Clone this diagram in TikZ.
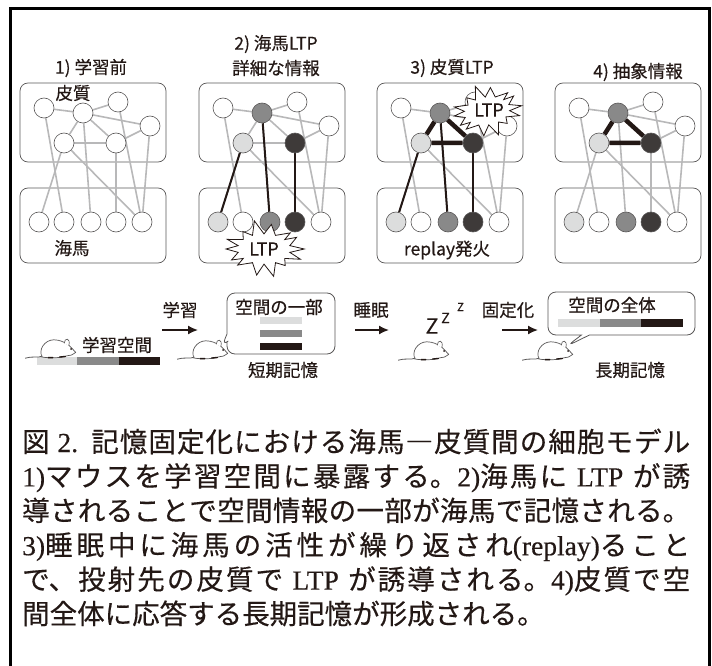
\documentclass[tikz,border=0pt]{standalone}
\usepackage{fontspec}
\setmainfont{Liberation Serif}
\newfontfamily\jp[FakeBold=0.4]{Noto Sans CJK JP}
\newfontfamily\latn[FakeBold=0.4]{Liberation Serif}
\usetikzlibrary{arrows.meta,shapes.callouts,backgrounds}
\definecolor{ink}{HTML}{231815}
\definecolor{lite}{HTML}{DCDDDD}
\definecolor{mid}{HTML}{898989}
\definecolor{dark}{HTML}{3E3A39}
\definecolor{fiber}{HTML}{B8B8B9}
\definecolor{rim}{HTML}{595757}
\XeTeXlinebreaklocale "ja"
\XeTeXlinebreakskip=0pt plus 2pt minus .5pt
\tikzset{
  mouse/.pic={
    \draw[rim, line width=.8pt] (-10,6) .. controls (-15,8) and (-20,6) .. (-26,8);
    \draw[rim, fill=white, line width=.7pt] (-11,7) .. controls (-15,1) and (-9,-8) .. (-1,-8)
      .. controls (4,-8) and (8,-6) .. (11,-4)
      .. controls (14,-2) and (16,1) .. (18,3)
      .. controls (16,5) and (13,6) .. (10,6)
      .. controls (5,8) and (-6,8) .. cycle;
    \draw[rim, fill=white, line width=.6pt] (8,-5) .. controls (8,-10) and (14,-10) .. (12,-3);
    \fill[ink] (14,0) circle (.9);
    \draw[ink, line width=1.4pt, line cap=round] (-6,7.5) -- (-2,7.5) (4,7) -- (9,6.5);
  },
  burst/.pic={
    \draw[ink, fill=white, line width=.8pt, line join=miter] (0:38 and 24)
      \foreach \k in {1,...,27}{
        -- ({\k*360/28}:{isodd(\k) ? 25 : 36+5*sin(\k*77)} and {isodd(\k) ? 14 : 23+4*cos(\k*53)})
      } -- cycle;
  }
}
\begin{document}
\begin{tikzpicture}[x=1pt,y=-1pt,
  lbl/.style={font=\jp\fontsize{17.5}{20}\selectfont, text=ink, inner sep=0pt},
  cell/.style={circle, draw=rim, line width=.6pt, fill=white, minimum size=20pt, inner sep=0pt},
  area/.style={draw=rim, line width=.7pt, rounded corners=8pt},
  wire/.style={draw=fiber, line width=1.6pt},
  link/.style={draw=ink, line width=2pt},
  tri/.style={draw=ink, line width=4.5pt},
  bubble/.style={rectangle callout, draw=rim, line width=.8pt, fill=white, rounded corners=8pt,
    callout pointer width=8pt, inner sep=0pt},
  flow/.style={-{Latex[length=10pt,width=9pt]}, draw=ink, line width=1.6pt},
  rat/.style={scale=1.15}]
  \useasboundingbox (0,0) rectangle (712,666);
  \draw[line width=3pt] (10,9) rectangle (709,700);

  \foreach \p/\x/\ca/\cb/\cc in {1/20/white/white/white,2/199/lite/mid/dark,
                                 3/377/lite/mid/dark,4/555/lite/mid/dark}{
    \begin{scope}[xshift=\x pt]
      \node[cell] (c\p-a) at (24,108) {};
      \node[cell, fill=\cb] (c\p-b) at (63,113) {};
      \node[cell] (c\p-c) at (98,102) {};
      \node[cell] (c\p-d) at (130,126) {};
      \node[cell, fill=\ca] (c\p-e) at (44,143) {};
      \node[cell, fill=\cc] (c\p-f) at (96,143) {};
      \foreach \i/\hx/\hc in {1/19/\ca,2/44/white,3/71/\cb,4/96/\cc,5/122/white}
        \node[cell, fill=\hc] (h\p-\i) at (\hx,222) {};
      \begin{pgfonlayer}{background}
        \draw[area] (0,83) rectangle (146,162);
        \draw[area] (0,188) rectangle (146,263);
        \foreach \u/\v in {a/b,b/c,b/d,b/e,b/f,e/f,f/d}
          \draw[wire] (c\p-\u) -- (c\p-\v);
        \foreach \u/\v in {a/2,e/1,e/5,b/3,c/5,f/4,d/5}
          \draw[wire] (c\p-\u) -- (h\p-\v);
      \end{pgfonlayer}
    \end{scope}
  }
  \begin{pgfonlayer}{background}
    \foreach \p in {2,3}
      \foreach \u/\v in {e/1,b/3,f/4}
        \draw[link] (c\p-\u) -- (h\p-\v);
    \foreach \p in {3,4}
      \draw[tri] (c\p-b) -- (c\p-e) (c\p-e) -- (c\p-f) (c\p-f) -- (c\p-b);
  \end{pgfonlayer}

  \node[lbl] (t1) at (91,68) {1) 学習前};
  \node[lbl, align=center] (t2) at (276,55.5) {2) 海馬LTP\\[5pt]詳細な情報};
  \node[lbl] (t3) at (452,68) {3) 皮質LTP};
  \node[lbl] (t4) at (638,72) {4) 抽象情報};
  \node[lbl] (ctx) at (73,93) {皮質};
  \node[lbl] (hip) at (72,248) {海馬};
  \node[lbl] (rep) at (447,250) {replay発火};
  \pic[xscale=1.06, yscale=1.08] at (264,249) {burst};
  \node[lbl, font=\jp\fontsize{18}{18}\selectfont] (ltp1) at (264,249) {LTP};
  \pic[xscale=.92, yscale=1, rotate=8] at (487,111) {burst};
  \node[lbl, font=\jp\fontsize{18}{18}\selectfont] (ltp2) at (489,110) {LTP};

  \fill[lite] (37,357) rectangle (77,365);
  \fill[mid] (77,357) rectangle (119,365);
  \fill[ink] (119,357) rectangle (160,365);
  \pic[rat] at (55,349) {mouse};
  \node[lbl] (room) at (117,345) {学習空間};
  \node[lbl] (learn) at (180,310) {学習};
  \coordinate (l0) at (162,330);
  \coordinate (l1) at (198,330);
  \draw[flow] (l0) -- (l1);

  \node[bubble, minimum width=108pt, minimum height=61pt,
    callout absolute pointer={(222,346)}] (part) at (281,323.5) {};
  \pic[rat] at (207,350) {mouse};
  \node[lbl] (partlbl) at (279,307) {空間の一部};
  \fill[lite] (260,317) rectangle (302,324);
  \fill[mid] (260,330) rectangle (302,337);
  \fill[ink] (260,343) rectangle (302,350);
  \node[lbl] (short) at (283,370) {短期記憶};

  \node[lbl] (sleep) at (371,310) {睡眠};
  \coordinate (s0) at (355,330);
  \coordinate (s1) at (389,330);
  \draw[flow] (s0) -- (s1);
  \node[lbl, font=\jp\fontsize{21}{21}\selectfont] (z1) at (432,326) {Z};
  \node[lbl, font=\jp\fontsize{14}{14}\selectfont] (z2) at (445.5,318) {Z};
  \node[lbl, font=\jp\fontsize{11}{11}\selectfont] (z3) at (460.5,307) {Z};
  \pic[rat] at (428,351) {mouse};

  \node[lbl] (fix) at (508,310) {固定化};
  \coordinate (f0) at (502,330);
  \coordinate (f1) at (538,330);
  \draw[flow] (f0) -- (f1);
  \node[bubble, minimum width=147pt, minimum height=43pt,
    callout absolute pointer={(567,346)}] (whole) at (621.5,313.5) {};
  \pic[rat] at (552,351) {mouse};
  \node[lbl] (wholelbl) at (612,305) {空間の全体};
  \fill[lite] (558,319) rectangle (600,327);
  \fill[mid] (600,319) rectangle (641,327);
  \fill[ink] (641,319) rectangle (683,327);
  \node[lbl] (long) at (630,370) {長期記憶};

  \node[anchor=base west, text width=668pt, align=justify, inner sep=0pt, text=ink,
    font=\jp\fontsize{27.5}{34.4}\selectfont] (cap) at (22,452) {%
    図 {\latn 2.} 記憶固定化における海馬―皮質間の細胞モデル\linebreak
    {\latn 1)}マウスを学習空間に暴露する。{\latn 2)}海馬に {\latn LTP} が誘\linebreak
    導されることで空間情報の一部が海馬で記憶される。\linebreak
    {\latn 3)}睡眠中に海馬の活性が繰り返され{\latn (replay)}ること\linebreak
    で、投射先の皮質で {\latn LTP} が誘導される。{\latn 4)}皮質で空\linebreak
    間全体に応答する長期記憶が形成される。};
\end{tikzpicture}
\end{document}
